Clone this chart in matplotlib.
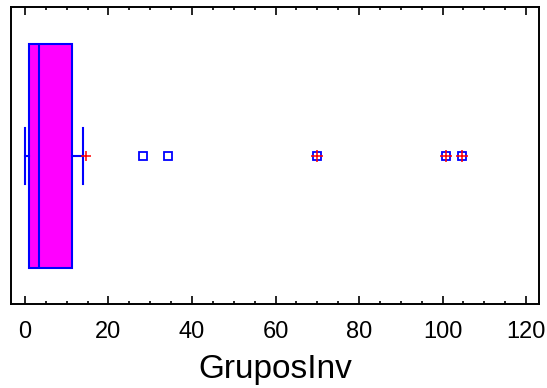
import matplotlib
matplotlib.use("Agg")
import matplotlib.pyplot as plt
from matplotlib.ticker import MultipleLocator

plt.rcParams['font.family'] = ['Liberation Sans', 'DejaVu Sans']

# box-and-whisker summary of GruposInv
q1, median, q3 = 1.0, 3.3, 11.2
whisker_low, whisker_high = 0.0, 14.0
mean_value = 14.6
outliers = [28.2, 34.2, 70.0, 100.8, 104.7]
far_outliers = [70.0, 100.8, 104.7]
var_name = "GruposInv"

blue = "#0000FF"
red = "#FF0000"

fig = plt.figure(figsize=(5.47, 3.88), dpi=100)
ax = fig.add_axes([0.0201, 0.2157, 0.966, 0.765])

stats = [dict(med=median, q1=q1, q3=q3, whislo=whisker_low, whishi=whisker_high,
              mean=mean_value, fliers=outliers, label="")]
ax.bxp(stats, positions=[0.5], widths=0.755, capwidths=0.19, vert=False,
       patch_artist=True, showmeans=True,
       boxprops=dict(facecolor="#FF00FF", edgecolor=blue, linewidth=1.5),
       medianprops=dict(color=blue, linewidth=1.5),
       whiskerprops=dict(color=blue, linewidth=1.5),
       capprops=dict(color=blue, linewidth=1.5),
       flierprops=dict(marker="s", markerfacecolor="none", markeredgecolor=blue,
                       markersize=6.2, markeredgewidth=1.3, linestyle="none"),
       meanprops=dict(marker="+", markeredgecolor=red, markersize=7,
                      markeredgewidth=1.1, linestyle="none"))

# far outliers marked with a red plus
ax.plot(far_outliers, [0.5] * len(far_outliers), linestyle="none", marker="+",
        markeredgecolor=red, markersize=9, markeredgewidth=1.1, zorder=4)

ax.set_xlim(-3.35, 123.2)
ax.set_ylim(0, 1)
ax.set_yticks([])
ax.xaxis.set_major_locator(MultipleLocator(20))
ax.xaxis.set_minor_locator(MultipleLocator(5))
ax.tick_params(axis="x", which="both", direction="in", top=True, width=1.2)
ax.tick_params(axis="x", which="major", length=5.5, labelsize=17, pad=12)
ax.tick_params(axis="x", which="minor", length=2.5)
for s in ax.spines.values():
    s.set_linewidth(1.4)

ax.set_xlabel(var_name, fontsize=24, labelpad=8)

fig.savefig("out.png", dpi=100)
